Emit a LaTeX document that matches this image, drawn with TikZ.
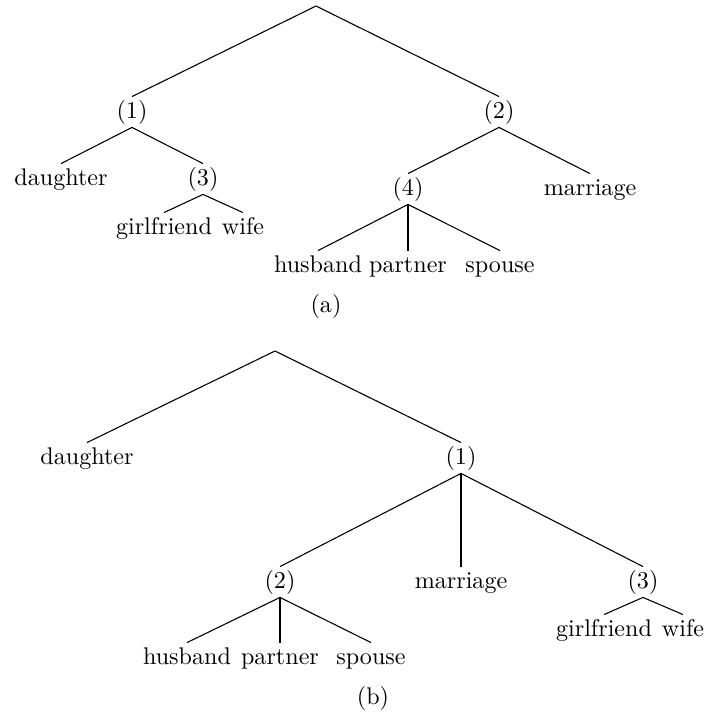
\documentclass[tikz,border=0pt]{standalone}
\begin{document}
\begin{tikzpicture}[x=0.415pt,y=-0.415pt,
  lbl/.style={inner sep=1.4pt,outer sep=0pt,text height=7.5pt,text depth=2.5pt,font=\fontsize{10}{12}\selectfont},
  edge/.style={line width=0.45pt}]
\useasboundingbox (0,0) rectangle (706,715);
% ---- tree (a)
\coordinate (ar) at (316,6);
\node[lbl] (a1) at (132,112) {(1)};
\node[lbl] (a2) at (499,112) {(2)};
\node[lbl] (adau) at (61,179) {daughter};
\node[lbl] (a3) at (203,179) {(3)};
\node[lbl] (a4) at (408,189) {(4)};
\node[lbl] (amar) at (590,189) {marriage};
\node[lbl] (agirl) at (164,228) {girlfriend};
\node[lbl] (awife) at (243,228) {wife};
\node[lbl] (ahus) at (318,266) {husband};
\node[lbl] (apar) at (408,266) {partner};
\node[lbl] (aspo) at (500,266) {spouse};
\node[lbl] (acap) at (326,306) {(a)};
\draw[edge] (a1.north) -- (ar) -- (a2.north);
\draw[edge] (adau.north) -- (a1.south) -- (a3.north);
\draw[edge] (agirl.north) -- (a3.south) -- (awife.north);
\draw[edge] (a4.north) -- (a2.south) -- (amar.north);
\draw[edge] (ahus.north) -- (a4.south) -- (aspo.north);
\draw[edge] (a4.south) -- (apar.north);
% ---- tree (b)
\coordinate (br) at (275,351);
\node[lbl] (bdau) at (87,458) {daughter};
\node[lbl] (b1) at (461,458) {(1)};
\node[lbl] (b2) at (280,582) {(2)};
\node[lbl] (bmar) at (461,582) {marriage};
\node[lbl] (b3) at (643,582) {(3)};
\node[lbl] (bhus) at (187,658) {husband};
\node[lbl] (bpar) at (280,658) {partner};
\node[lbl] (bspo) at (371,658) {spouse};
\node[lbl] (bgirl) at (604,630) {girlfriend};
\node[lbl] (bwife) at (683,630) {wife};
\node[lbl] (bcap) at (373,698) {(b)};
\draw[edge] (bdau.north) -- (br) -- (b1.north);
\draw[edge] (b2.north) -- (b1.south) -- (b3.north);
\draw[edge] (b1.south) -- (bmar.north);
\draw[edge] (bhus.north) -- (b2.south) -- (bspo.north);
\draw[edge] (b2.south) -- (bpar.north);
\draw[edge] (bgirl.north) -- (b3.south) -- (bwife.north);
\end{tikzpicture}
\end{document}
